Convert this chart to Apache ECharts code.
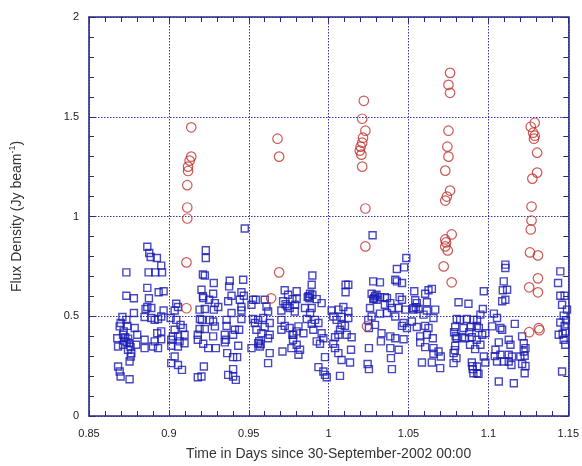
<!DOCTYPE html>
<html>
<head>
<meta charset="utf-8">
<script src="https://cdn.jsdelivr.net/npm/echarts@6/dist/echarts.min.js"></script>
<style>html,body{margin:0;padding:0;background:#fff}#c{width:582px;height:466px}</style>
</head>
<body>
<div id="c"></div>
<script>
var xTicks = [0.85, 0.9, 0.95, 1, 1.05, 1.1, 1.15];
var yTicks = [0, 0.5, 1, 1.5, 2];
var xTitle = 'Time in Days since 30-September-2002 00:00';
var yTitle = 'Flux Density (Jy beam';
var ySup = '-1';

// quiescent (blue squares)
var squares = [
[0.8865,0.848],[0.8877,0.817],[0.8886,0.797],[0.8925,0.792],[0.8952,0.754],[0.8957,0.720],[0.8873,0.720],[0.8915,0.720],
[0.8734,0.720],[0.8865,0.642],[0.8936,0.620],[0.8967,0.625],[0.8734,0.603],[0.8781,0.590],[0.8875,0.590],[0.8865,0.546],
[0.8854,0.536],[0.8890,0.541],[0.8967,0.529],[0.9046,0.563],[0.9057,0.546],[0.9036,0.529],[0.8781,0.516],[0.8709,0.496],
[0.8734,0.482],[0.8848,0.496],[0.8890,0.491],[0.8911,0.482],[0.8932,0.486],[0.8952,0.499],[0.9011,0.491],[0.9046,0.482],
[0.8698,0.466],[0.8692,0.449],[0.8740,0.452],[0.8786,0.441],[0.8717,0.424],[0.8713,0.407],[0.8677,0.390],[0.8727,0.395],
[0.8802,0.407],[0.8927,0.415],[0.8952,0.424],[0.9036,0.432],[0.9073,0.457],[0.9088,0.441],[0.9025,0.399],[0.9057,0.399],
[0.9098,0.407],[0.9181,0.407],[0.9192,0.436],[0.8682,0.348],[0.8713,0.357],[0.8754,0.365],[0.8796,0.357],[0.8848,0.382],
[0.8911,0.374],[0.8952,0.385],[0.9015,0.382],[0.9067,0.374],[0.9098,0.365],[0.9181,0.382],[0.8848,0.340],[0.8900,0.348],
[0.8932,0.340],[0.9015,0.352],[0.9057,0.348],[0.8744,0.332],[0.8765,0.315],[0.8761,0.298],[0.8754,0.273],[0.9036,0.298],
[0.9015,0.265],[0.9057,0.256],[0.9082,0.231],[0.8682,0.248],[0.8692,0.223],[0.8698,0.198],[0.8754,0.184],[0.9181,0.194],
[0.9207,0.482],[0.9192,0.533],[0.9213,0.600],[0.9213,0.709],[0.8720,0.378],[0.8735,0.370],[0.8745,0.388],[0.8760,0.345],
[0.9475,0.940],[0.9231,0.831],[0.9231,0.792],[0.9225,0.704],[0.9281,0.667],[0.9381,0.678],[0.9377,0.650],[0.9465,0.683],
[0.9204,0.633],[0.9277,0.613],[0.9392,0.603],[0.9454,0.620],[0.9469,0.603],[0.9215,0.591],[0.9252,0.583],[0.9288,0.566],
[0.9309,0.546],[0.9371,0.575],[0.9444,0.583],[0.9454,0.546],[0.9225,0.536],[0.9281,0.533],[0.9454,0.529],[0.9194,0.486],
[0.9256,0.482],[0.9277,0.474],[0.9361,0.482],[0.9392,0.516],[0.9454,0.486],[0.9225,0.436],[0.9288,0.449],[0.9361,0.452],
[0.9413,0.432],[0.9440,0.432],[0.9277,0.399],[0.9350,0.407],[0.9357,0.382],[0.9402,0.407],[0.9215,0.362],[0.9246,0.340],
[0.9294,0.340],[0.9350,0.369],[0.9434,0.352],[0.9365,0.315],[0.9402,0.295],[0.9427,0.295],[0.9219,0.248],[0.9204,0.198],
[0.9402,0.235],[0.9371,0.206],[0.9402,0.198],[0.9419,0.181],
[0.9527,0.583],[0.9544,0.583],[0.9517,0.558],[0.9600,0.583],[0.9611,0.549],[0.9621,0.524],[0.9725,0.630],[0.9746,0.608],
[0.9773,0.586],[0.9715,0.575],[0.9756,0.541],[0.9704,0.529],[0.9788,0.524],[0.9527,0.486],[0.9538,0.466],[0.9559,0.482],
[0.9590,0.491],[0.9631,0.466],[0.9600,0.446],[0.9548,0.432],[0.9579,0.415],[0.9631,0.407],[0.9559,0.365],[0.9569,0.348],
[0.9517,0.340],[0.9621,0.390],[0.9704,0.482],[0.9725,0.452],[0.9704,0.432],[0.9756,0.441],[0.9773,0.407],[0.9777,0.382],
[0.9767,0.340],[0.9631,0.315],[0.9711,0.323],[0.9621,0.265],[0.9565,0.375],[0.9575,0.360],[0.9730,0.560],[0.9740,0.550],
[1.0275,0.906],[0.9898,0.704],[0.9894,0.658],[0.9800,0.625],[0.9884,0.613],[0.9869,0.596],[0.9898,0.608],[0.9925,0.586],
[0.9956,0.566],[0.9800,0.586],[0.9790,0.558],[0.9852,0.541],[0.9894,0.541],[0.9884,0.516],[0.9863,0.486],[0.9915,0.482],
[0.9936,0.466],[0.9894,0.462],[0.9811,0.449],[0.9800,0.424],[0.9779,0.407],[0.9842,0.415],[0.9904,0.432],[0.9956,0.415],
[0.9967,0.390],[0.9925,0.374],[0.9946,0.362],[0.9800,0.357],[0.9821,0.332],[0.9811,0.307],[0.9977,0.295],[0.9936,0.245],
[0.9967,0.223],[0.9977,0.206],[0.9988,0.194],[0.9875,0.600],[0.9880,0.590],
[1.0106,0.658],[1.0123,0.658],[1.0106,0.620],[1.0092,0.546],[1.0061,0.533],[1.0019,0.529],[1.0029,0.499],[1.0050,0.482],
[1.0081,0.496],[1.0123,0.524],[1.0123,0.491],[1.0081,0.457],[1.0102,0.452],[1.0071,0.432],[1.0061,0.407],[1.0040,0.395],
[1.0113,0.407],[1.0144,0.395],[1.0040,0.340],[1.0061,0.315],[1.0081,0.281],[1.0134,0.268],[1.0071,0.201],[1.0140,0.332],
[1.0029,0.362],[1.0279,0.675],[1.0321,0.670],[1.0269,0.613],[1.0300,0.608],[1.0300,0.583],[1.0279,0.586],[1.0321,0.596],
[1.0352,0.596],[1.0259,0.541],[1.0321,0.513],[1.0269,0.499],[1.0248,0.482],[1.0290,0.457],[1.0252,0.441],[1.0331,0.415],
[1.0327,0.374],[1.0252,0.340],[1.0244,0.261],[1.0252,0.235],[1.0352,0.558],[1.0290,0.600],[1.0285,0.590],
[1.0486,0.792],[1.0427,0.737],[1.0473,0.745],[1.0417,0.683],[1.0427,0.675],[1.0459,0.667],[1.0536,0.625],[1.0604,0.613],
[1.0625,0.630],[1.0646,0.637],[1.0444,0.596],[1.0365,0.591],[1.0459,0.583],[1.0542,0.580],[1.0552,0.566],[1.0615,0.570],
[1.0386,0.566],[1.0396,0.541],[1.0438,0.541],[1.0479,0.533],[1.0531,0.533],[1.0563,0.536],[1.0615,0.529],[1.0667,0.533],
[1.0365,0.516],[1.0417,0.499],[1.0656,0.491],[1.0594,0.508],[1.0469,0.466],[1.0521,0.474],[1.0552,0.446],[1.0604,0.452],
[1.0625,0.441],[1.0490,0.441],[1.0459,0.452],[1.0386,0.399],[1.0417,0.390],[1.0469,0.385],[1.0573,0.399],[1.0615,0.407],
[1.0652,0.390],[1.0573,0.369],[1.0604,0.345],[1.0386,0.340],[1.0438,0.332],[1.0656,0.340],[1.0688,0.323],[1.0656,0.312],
[1.0702,0.298],[1.0390,0.290],[1.0584,0.268],[1.0646,0.268],[1.0698,0.240],[1.0396,0.235],[1.0530,0.540],[1.0545,0.545],
[1.0813,0.570],[1.0875,0.563],[1.0802,0.486],[1.0823,0.482],[1.0865,0.486],[1.0906,0.482],[1.0792,0.446],[1.0844,0.441],
[1.0890,0.446],[1.0927,0.452],[1.0802,0.390],[1.0854,0.390],[1.0896,0.395],[1.0927,0.382],[1.0792,0.352],[1.0885,0.357],
[1.0917,0.335],[1.0782,0.315],[1.0782,0.265],[1.0896,0.268],[1.0902,0.235],[1.0906,0.214],[1.0938,0.211],[1.0785,0.420],
[1.0795,0.400],[1.0880,0.420],[1.0835,0.395],[1.0790,0.330],[1.0800,0.290],[1.0900,0.250],
[1.0971,0.625],[1.1106,0.759],[1.1106,0.742],[1.1096,0.675],[1.1090,0.630],[1.1117,0.633],[1.1086,0.575],[1.1106,0.583],
[1.0965,0.536],[1.0950,0.508],[1.0929,0.482],[1.0940,0.441],[1.0961,0.407],[1.0981,0.415],[1.0950,0.357],[1.0971,0.298],
[1.0981,0.268],[1.0929,0.248],[1.0929,0.214],[1.1034,0.513],[1.1054,0.491],[1.1023,0.449],[1.1075,0.441],[1.1086,0.432],
[1.1165,0.462],[1.1065,0.369],[1.1127,0.382],[1.1138,0.357],[1.1044,0.332],[1.1075,0.307],[1.1127,0.307],[1.1148,0.298],
[1.1054,0.273],[1.1096,0.273],[1.1127,0.273],[1.1144,0.256],[1.1211,0.399],[1.1221,0.365],[1.1232,0.340],[1.1221,0.323],
[1.1227,0.302],[1.1200,0.298],[1.1211,0.261],[1.1232,0.251],[1.1227,0.214],[1.1065,0.173],[1.1159,0.164],[1.1040,0.300],
[1.1450,0.725],[1.1436,0.667],[1.1450,0.603],[1.1477,0.603],[1.1461,0.558],[1.1471,0.503],[1.1450,0.469],[1.1477,0.452],
[1.1481,0.424],[1.1440,0.407],[1.1465,0.412],[1.1471,0.382],[1.1481,0.357],[1.1461,0.223],[1.1492,0.533],[1.1485,0.480]
];

// flares (red circles)
var circles = [
[0.9140,1.447],[0.9140,1.300],[0.9130,1.280],[0.9120,1.250],[0.9120,1.228],[0.9115,1.157],[0.9115,1.045],[0.9115,0.990],
[0.9110,0.770],[0.9110,0.540],
[0.9680,1.390],[0.9690,1.300],[0.9690,0.720],[0.9640,0.590],
[1.0220,1.580],[1.0210,1.490],[1.0230,1.430],[1.0215,1.395],[1.0210,1.370],[1.0200,1.350],[1.0195,1.330],[1.0205,1.310],
[1.0210,1.250],[1.0230,1.040],[1.0230,0.850],[1.0240,0.450],
[1.0760,1.720],[1.0750,1.660],[1.0760,1.620],[1.0750,1.430],[1.0743,1.350],[1.0750,1.300],[1.0730,1.230],[1.0760,1.130],
[1.0740,1.100],[1.0730,1.080],[1.0770,0.910],[1.0730,0.885],[1.0735,0.870],[1.0730,0.850],[1.0745,0.830],[1.0720,0.750],
[1.0770,0.670],
[1.1290,1.470],[1.1265,1.450],[1.1280,1.420],[1.1290,1.405],[1.1285,1.390],[1.1305,1.320],[1.1305,1.220],[1.1275,1.190],
[1.1270,1.050],[1.1270,0.980],[1.1265,0.935],[1.1260,0.820],[1.1310,0.805],[1.1310,0.690],[1.1255,0.645],[1.1310,0.620],
[1.1255,0.420],[1.1315,0.440],[1.1320,0.430]
];

var axisColor = '#2a2a8a';
var gridColor = '#3434b0';
var chart = echarts.init(document.getElementById('c'), null, {renderer: 'canvas'});
var labelFont = {color: '#1a1a1a', fontFamily: 'Liberation Sans, Arial, sans-serif', fontSize: 11};

function xAx(pos, show) {
  return {
    type: 'value', position: pos, min: 0.85, max: 1.15, interval: 0.05,
    axisLine: {show: true, onZero: false, lineStyle: {color: axisColor, width: 1.6}},
    axisTick: {show: true, inside: true, length: 6, lineStyle: {color: axisColor}},
    minorTick: {show: true, splitNumber: 5, length: 5, lineStyle: {color: axisColor}},
    splitLine: {show: show, lineStyle: {color: gridColor, type: [1.5, 1.5], width: 1}},
    axisLabel: Object.assign({show: show, margin: 12, formatter: function (v) {
      for (var i = 0; i < xTicks.length; i++) if (Math.abs(xTicks[i] - v) < 1e-9) return String(xTicks[i]);
      return '';
    }}, labelFont),
    name: show ? xTitle : '', nameLocation: 'middle', nameGap: 31,
    nameTextStyle: {color: '#333', fontSize: 14, fontFamily: 'Liberation Sans, Arial, sans-serif'}
  };
}
function yAx(pos, show) {
  return {
    type: 'value', position: pos, min: 0, max: 2, interval: 0.5,
    axisLine: {show: true, onZero: false, lineStyle: {color: axisColor, width: 1.6}},
    axisTick: {show: true, inside: true, length: 6, lineStyle: {color: axisColor}},
    minorTick: {show: true, splitNumber: 5, length: 5, lineStyle: {color: axisColor}},
    splitLine: {show: show, lineStyle: {color: gridColor, type: [1.5, 1.5], width: 1}},
    axisLabel: Object.assign({show: show, margin: 10, formatter: function (v) {
      for (var i = 0; i < yTicks.length; i++) if (Math.abs(yTicks[i] - v) < 1e-9) return String(yTicks[i]);
      return '';
    }}, labelFont),
    name: show ? '{a|' + yTitle + '}{s|' + ySup + '}{a|)}' : '',
    nameLocation: 'middle', nameGap: 63, nameRotate: 90,
    nameTextStyle: {
      rich: {
        a: {color: '#333', fontSize: 14, fontFamily: 'Liberation Sans, Arial, sans-serif'},
        s: {color: '#333', fontSize: 9, fontFamily: 'Liberation Sans, Arial, sans-serif', padding: [0, 0, 9, 0]}
      }
    }
  };
}

chart.setOption({
  backgroundColor: '#ffffff',
  animation: false,
  grid: {left: 89, right: 13, top: 17, bottom: 50, containLabel: false},
  xAxis: [xAx('bottom', true), xAx('top', false)],
  yAxis: [yAx('left', true), yAx('right', false)],
  series: [
    {
      type: 'scatter', xAxisIndex: 0, yAxisIndex: 0, data: squares,
      symbol: 'rect', symbolSize: 7,
      itemStyle: {color: 'rgba(0,0,0,0)', borderColor: '#1a1ab4', borderWidth: 1.4}
    },
    {
      type: 'scatter', xAxisIndex: 0, yAxisIndex: 0, data: circles,
      symbol: 'circle', symbolSize: 9.5,
      itemStyle: {color: 'rgba(0,0,0,0)', borderColor: '#c0302c', borderWidth: 1.2}
    }
  ]
});
</script>
</body>
</html>
